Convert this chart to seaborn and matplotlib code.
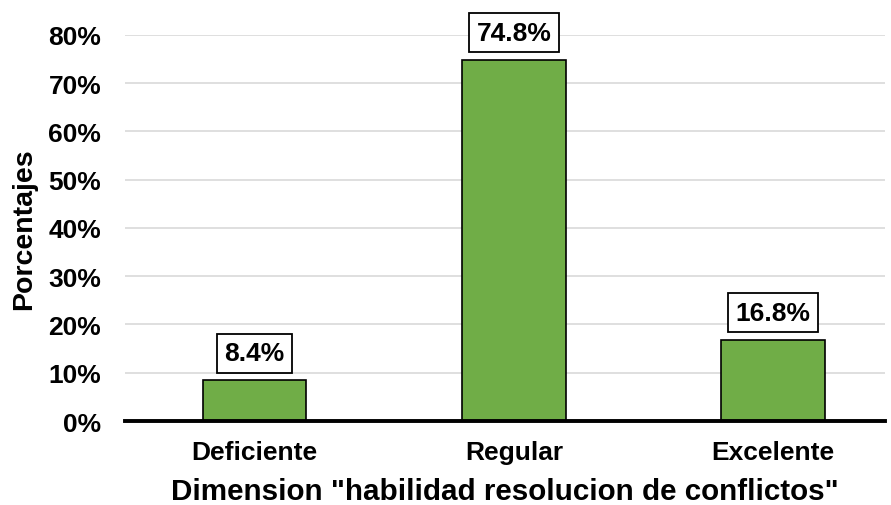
import matplotlib
matplotlib.use("Agg")
import matplotlib.pyplot as plt
import seaborn as sns
import pandas as pd
from matplotlib.ticker import PercentFormatter

# Data
categorias = ["Deficiente", "Regular", "Excelente"]
porcentajes = [8.4, 74.8, 16.8]

df = pd.DataFrame({"Categoria": categorias, "Porcentaje": porcentajes})

sns.set_theme(style="white", rc={"text.color": "black", "axes.labelcolor": "black",
                                 "xtick.color": "black", "ytick.color": "black"})
plt.rcParams["font.family"] = ["Liberation Sans", "DejaVu Sans"]
plt.rcParams["font.weight"] = "bold"

fig = plt.figure(figsize=(8.91, 5.06), dpi=100)
ax = fig.add_axes([0.140, 0.166, 0.853, 0.763])

sns.barplot(data=df, x="Categoria", y="Porcentaje", color="#70AD47",
            width=0.40, edgecolor="black", linewidth=1.2, saturation=1,
            ax=ax, zorder=3)

ax.set_ylim(0, 80)
ax.set_xlim(-0.5, 2.43)
ax.set_yticks(range(0, 81, 10))
ax.yaxis.set_major_formatter(PercentFormatter(decimals=0))
ax.grid(axis="y", color="#D9D9D9", linewidth=1.2, zorder=0)
ax.set_axisbelow(True)

for s in ["top", "right", "left"]:
    ax.spines[s].set_visible(False)
ax.spines["bottom"].set_color("black")
ax.spines["bottom"].set_linewidth(2.8)
ax.spines["bottom"].set_zorder(4)

ax.tick_params(axis="both", length=0, labelsize=19)
ax.tick_params(axis="x", pad=14)
ax.tick_params(axis="y", pad=17)
for lab in ax.get_xticklabels() + ax.get_yticklabels():
    lab.set_fontweight("bold")

ax.set_xlabel('Dimension "habilidad resolucion de conflictos"', fontsize=21.3,
              fontweight="bold", labelpad=9)
ax.set_ylabel("Porcentajes", fontsize=20.5, fontweight="bold", labelpad=8)

for i, v in enumerate(porcentajes):
    ax.annotate(f"{v:.1f}%", xy=(i, v), xytext=(0, 11), textcoords="offset points",
                ha="center", va="bottom", fontsize=19, fontweight="bold",
                bbox=dict(boxstyle="square,pad=0.28", facecolor="white",
                          edgecolor="black", linewidth=1.3), zorder=5,
                annotation_clip=False)

fig.savefig("out.png", dpi=100)
